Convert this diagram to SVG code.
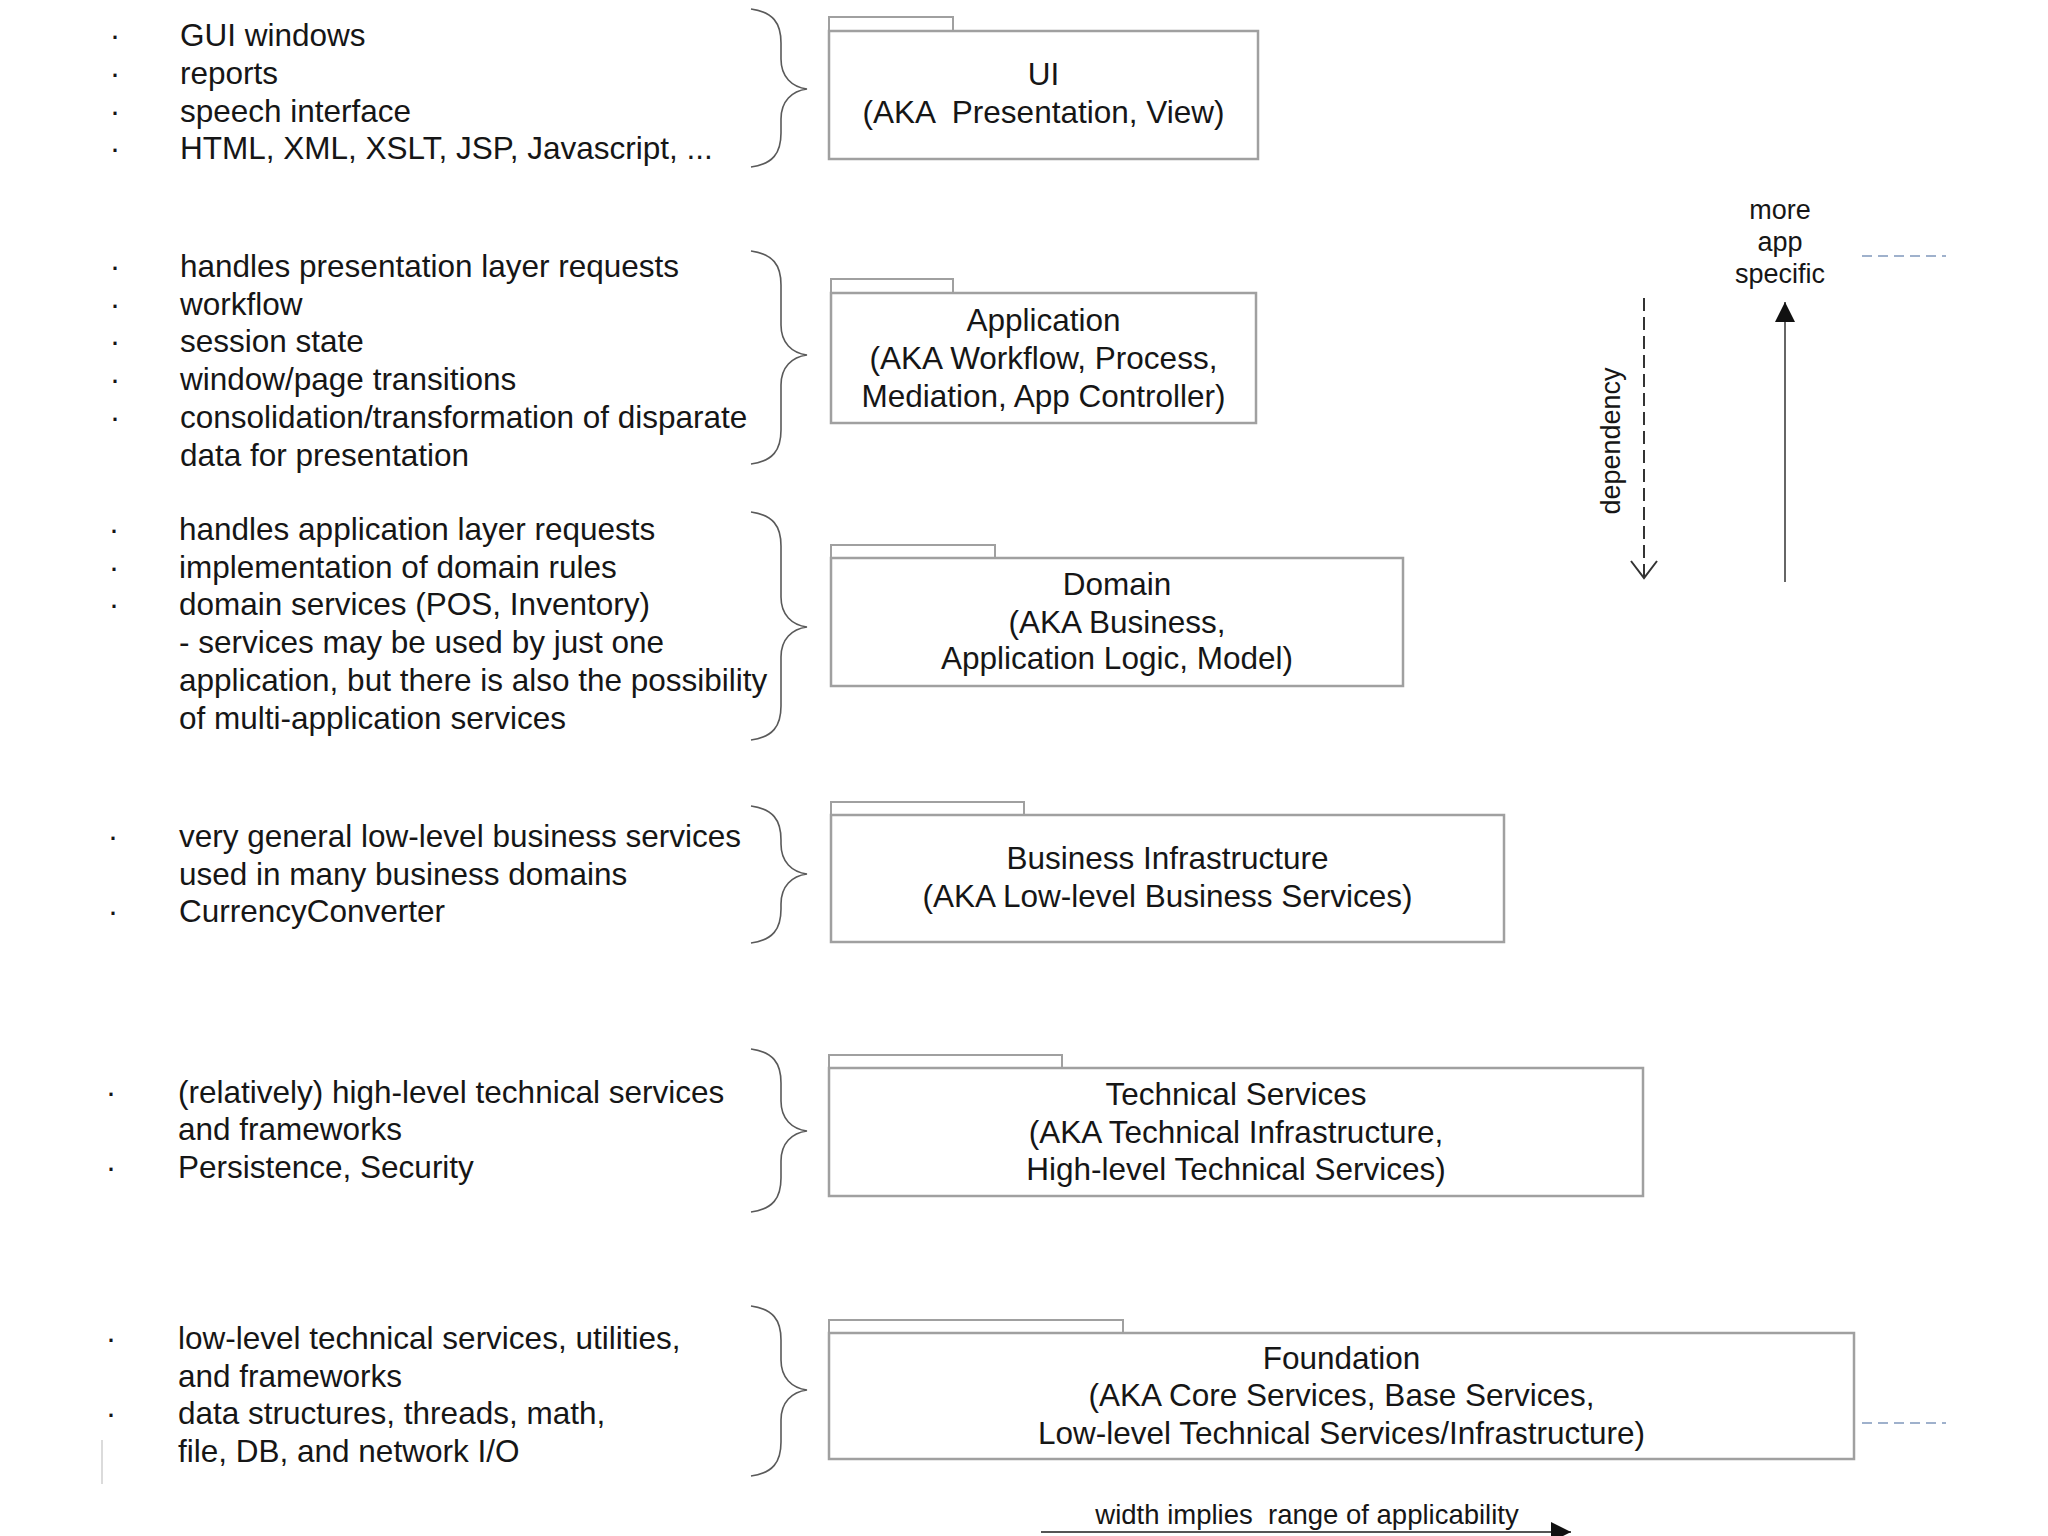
<svg xmlns="http://www.w3.org/2000/svg" width="2048" height="1536" viewBox="0 0 2048 1536">
<style>
.t { font-family: "Liberation Sans", Arial, "Noto Sans", sans-serif; font-size: 31.5px; fill: #161616; }
.c { text-anchor: middle; }
.s { font-size: 27px; }
.bw { font-size: 27.5px; }
.box { fill: #ffffff; stroke: #a0a0a0; stroke-width: 2.5; }
.tab { fill: #ffffff; stroke: #a0a0a0; stroke-width: 2; }
.brace { fill: none; stroke: #5a5a5a; stroke-width: 1.6; }
.blue { stroke: #9fb1cc; stroke-width: 2; stroke-dasharray: 10 6; fill: none; }
</style>
<defs>
<marker id="solidHead" viewBox="0 0 20 20" refX="20" refY="10" markerWidth="20" markerHeight="20" markerUnits="userSpaceOnUse" orient="auto">
<path d="M0,0 L20,10 L0,20 Z" fill="#111111"/>
</marker>
<marker id="openHead" viewBox="0 0 20 30" refX="18" refY="15" markerWidth="20" markerHeight="30" markerUnits="userSpaceOnUse" orient="auto">
<path d="M1,2 L18,15 L1,28" fill="none" stroke="#333333" stroke-width="2"/>
</marker>
</defs>
<rect width="2048" height="1536" fill="#ffffff"/>

<g id="node-ui">
<rect class="tab" x="829" y="17" width="124" height="14"/>
<rect class="box" x="829" y="31" width="429" height="128"/>
<text class="t c" x="1043.5" y="85">UI</text>
<text class="t c" x="1043.5" y="123" xml:space="preserve">(AKA  Presentation, View)</text>
</g>

<g id="node-application">
<rect class="tab" x="831" y="279" width="122" height="14"/>
<rect class="box" x="831" y="293" width="425" height="130"/>
<text class="t c" x="1043.5" y="331">Application</text>
<text class="t c" x="1043.5" y="369">(AKA Workflow, Process,</text>
<text class="t c" x="1043.5" y="407">Mediation, App Controller)</text>
</g>

<g id="node-domain">
<rect class="tab" x="831" y="545" width="164" height="13"/>
<rect class="box" x="831" y="558" width="572" height="128"/>
<text class="t c" x="1117" y="595">Domain</text>
<text class="t c" x="1117" y="633">(AKA Business,</text>
<text class="t c" x="1117" y="669">Application Logic, Model)</text>
</g>

<g id="node-business-infrastructure">
<rect class="tab" x="831" y="802" width="193" height="13"/>
<rect class="box" x="831" y="815" width="673" height="127"/>
<text class="t c" x="1167.5" y="869">Business Infrastructure</text>
<text class="t c" x="1167.5" y="907">(AKA Low-level Business Services)</text>
</g>

<g id="node-technical-services">
<rect class="tab" x="829" y="1055" width="233" height="13"/>
<rect class="box" x="829" y="1068" width="814" height="128"/>
<text class="t c" x="1236" y="1105">Technical Services</text>
<text class="t c" x="1236" y="1143">(AKA Technical Infrastructure,</text>
<text class="t c" x="1236" y="1180">High-level Technical Services)</text>
</g>

<g id="node-foundation">
<rect class="tab" x="829" y="1320" width="294" height="13"/>
<rect class="box" x="829" y="1333" width="1025" height="126"/>
<text class="t c" x="1341.5" y="1369">Foundation</text>
<text class="t c" x="1341.5" y="1406">(AKA Core Services, Base Services,</text>
<text class="t c" x="1341.5" y="1444">Low-level Technical Services/Infrastructure)</text>
</g>

<g id="notes-ui">
<text class="t c" x="115" y="46">·</text>
<text class="t c" x="115" y="84">·</text>
<text class="t c" x="115" y="122">·</text>
<text class="t c" x="115" y="159">·</text>
<text class="t" x="180" y="46">GUI windows</text>
<text class="t" x="180" y="84">reports</text>
<text class="t" x="180" y="122">speech interface</text>
<text class="t" x="180" y="159">HTML, XML, XSLT, JSP, Javascript, ...</text>
</g>

<g id="notes-application">
<text class="t c" x="115" y="277">·</text>
<text class="t c" x="115" y="315">·</text>
<text class="t c" x="115" y="352">·</text>
<text class="t c" x="115" y="390">·</text>
<text class="t c" x="115" y="428">·</text>
<text class="t" x="180" y="277">handles presentation layer requests</text>
<text class="t" x="180" y="315">workflow</text>
<text class="t" x="180" y="352">session state</text>
<text class="t" x="180" y="390">window/page transitions</text>
<text class="t" x="180" y="428">consolidation/transformation of disparate</text>
<text class="t" x="180" y="466">data for presentation</text>
</g>

<g id="notes-domain">
<text class="t c" x="114" y="540">·</text>
<text class="t c" x="114" y="578">·</text>
<text class="t c" x="114" y="615">·</text>
<text class="t" x="179" y="540">handles application layer requests</text>
<text class="t" x="179" y="578">implementation of domain rules</text>
<text class="t" x="179" y="615">domain services (POS, Inventory)</text>
<text class="t" x="179" y="653">- services may be used by just one</text>
<text class="t" x="179" y="691">application, but there is also the possibility</text>
<text class="t" x="179" y="729">of multi-application services</text>
</g>

<g id="notes-business-infrastructure">
<text class="t c" x="113" y="847">·</text>
<text class="t c" x="113" y="922">·</text>
<text class="t" x="179" y="847">very general low-level business services</text>
<text class="t" x="179" y="885">used in many business domains</text>
<text class="t" x="179" y="922">CurrencyConverter</text>
</g>

<g id="notes-technical-services">
<text class="t c" x="111" y="1103">·</text>
<text class="t c" x="111" y="1178">·</text>
<text class="t" x="178" y="1103">(relatively) high-level technical services</text>
<text class="t" x="178" y="1140">and frameworks</text>
<text class="t" x="178" y="1178">Persistence, Security</text>
</g>

<g id="notes-foundation">
<text class="t c" x="111" y="1349">·</text>
<text class="t c" x="111" y="1424">·</text>
<text class="t" x="178" y="1349">low-level technical services, utilities,</text>
<text class="t" x="178" y="1387">and frameworks</text>
<text class="t" x="178" y="1424">data structures, threads, math,</text>
<text class="t" x="178" y="1462">file, DB, and network I/O</text>
<line x1="102" y1="1440" x2="102" y2="1484" stroke="#cfcfcf" stroke-width="1.5"/>
</g>

<g id="connectors">
<path class="brace" d="M751 9 C773 12 781 23 781 43 L781 59 C781 77 792 87 807 89 C792 91 781 101 781 119 L781 133 C781 153 773 164 751 167"/>
<path class="brace" d="M751 251 C773 254 781 265 781 285 L781 325 C781 343 792 353 807 355 C792 357 781 367 781 385 L781 430 C781 450 773 461 751 464"/>
<path class="brace" d="M751 512 C773 515 781 526 781 546 L781 597 C781 615 792 625 807 627 C792 629 781 639 781 657 L781 706 C781 726 773 737 751 740"/>
<path class="brace" d="M751 806 C773 809 781 820 781 840 L781 844 C781 862 792 872 807 874 C792 876 781 886 781 904 L781 909 C781 929 773 940 751 943"/>
<path class="brace" d="M751 1049 C773 1052 781 1063 781 1083 L781 1101 C781 1119 792 1129 807 1131 C792 1133 781 1143 781 1161 L781 1178 C781 1198 773 1209 751 1212"/>
<path class="brace" d="M751 1306 C773 1309 781 1320 781 1340 L781 1360 C781 1378 792 1388 807 1390 C792 1392 781 1402 781 1420 L781 1442 C781 1462 773 1473 751 1476"/>

<line x1="1644" y1="298" x2="1644" y2="578" stroke="#333333" stroke-width="2" stroke-dasharray="13 6" marker-end="url(#openHead)"/>
<line x1="1785" y1="582" x2="1785" y2="302" stroke="#666666" stroke-width="2" marker-end="url(#solidHead)"/>
<line x1="1041" y1="1532" x2="1571" y2="1532" stroke="#555555" stroke-width="2" marker-end="url(#solidHead)"/>
<line class="blue" x1="1862" y1="256" x2="1946" y2="256"/>
<line class="blue" x1="1862" y1="1423" x2="1946" y2="1423"/>
</g>

<g id="labels">
<text class="t s c" x="1780" y="219">more</text>
<text class="t s c" x="1780" y="251">app</text>
<text class="t s c" x="1780" y="283">specific</text>
<text class="t s c" transform="translate(1620,441) rotate(-90)" x="0" y="0">dependency</text>
<text class="t bw c" x="1307" y="1524" xml:space="preserve">width implies  range of applicability</text>
</g>
</svg>
